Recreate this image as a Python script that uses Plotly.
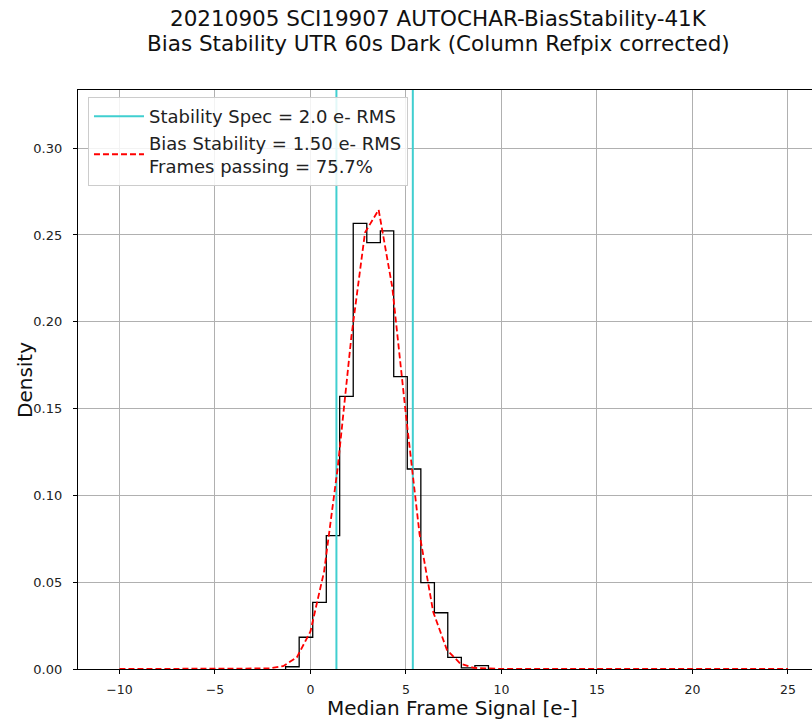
import plotly.graph_objects as go

# ---- data ----
bin_edges = [-1.30, -0.59, 0.12, 0.83, 1.53, 2.24, 2.95, 3.66, 4.36, 5.07,
             5.78, 6.49, 7.19, 7.90, 8.61, 9.32]
bin_density = [0.0013, 0.0183, 0.0384, 0.0768, 0.1570, 0.2567, 0.2456, 0.2523,
               0.1684, 0.1152, 0.0497, 0.0324, 0.0067, 0.0007, 0.0019]

fit_x = [-10.0, -3.571, -2.857, -2.143, -1.429, -0.714, 0.0, 0.714, 1.429, 2.143,
         2.857, 3.571, 4.286, 5.0, 5.714, 6.429, 7.143, 7.857, 8.571, 9.286,
         10.0, 10.714, 25.0]
fit_y = [0.0, 0.0, 0.00005, 0.00032, 0.00163, 0.00665, 0.0216, 0.0561, 0.1161, 0.1914,
         0.2514, 0.2645, 0.2198, 0.1463, 0.0776, 0.0328, 0.0111, 0.00297, 0.00064, 0.00011,
         0.00001, 0.0, 0.0]

spec_lines = [1.36, 5.36]

x_ticks = [-10, -5, 0, 5, 10, 15, 20, 25]
y_ticks = [0.00, 0.05, 0.10, 0.15, 0.20, 0.25, 0.30]

title_lines = ["20210905 SCI19907 AUTOCHAR-BiasStability-41K",
               "Bias Stability UTR 60s Dark (Column Refpix corrected)"]
spec_label = "Stability Spec = 2.0 e- RMS"
fit_label = "Bias Stability = 1.50 e- RMS<br>Frames passing = 75.7%"

FONT = "DejaVu Sans"

fig = go.Figure()

# histogram outline (step)
fig.add_trace(go.Scatter(
    x=[bin_edges[0]] + bin_edges,
    y=[0] + bin_density + [0],
    mode="lines", line=dict(color="black", width=1.3, shape="hv"),
    showlegend=False, hoverinfo="skip"))

# spec lines
sx, sy = [], []
for v in spec_lines:
    sx += [v, v, None]
    sy += [0, 1, None]
fig.add_trace(go.Scatter(x=sx, y=sy, mode="lines",
                         line=dict(color="#40CFD0", width=2),
                         name=spec_label))

# fit curve
fig.add_trace(go.Scatter(x=fit_x, y=fit_y, mode="lines",
                         line=dict(color="#ff0000", width=1.8, dash="6px,3px"),
                         name=fit_label))

fig.update_layout(
    width=812, height=719,
    margin=dict(l=78, r=0, t=90, b=50),
    paper_bgcolor="white", plot_bgcolor="white",
    font=dict(family=FONT, color="#222", size=13),
    legend=dict(x=0.0136, y=0.988, xanchor="left", yanchor="top",
                bgcolor="rgba(255,255,255,0.85)", bordercolor="#cccccc",
                borderwidth=1, font=dict(size=18, family=FONT, color="#222"),
                itemwidth=50, tracegroupgap=2),
    showlegend=True,
)

fig.update_xaxes(range=[-12.17, 26.26], tickvals=x_ticks,
                 ticktext=[("\u2212" + str(-t)) if t < 0 else str(t) for t in x_ticks],
                 showgrid=True, gridcolor="#b0b0b0", gridwidth=1,
                 showline=True, linecolor="black", linewidth=1.2, mirror=True,
                 ticks="outside", ticklen=4, tickcolor="black", zeroline=False,
                 ticklabelstandoff=5,
                 tickfont=dict(size=12.5, family=FONT, color="#222"))
fig.update_yaxes(range=[0, 0.3335], tickvals=y_ticks,
                 ticktext=[f"{t:.2f}" for t in y_ticks],
                 showgrid=True, gridcolor="#b0b0b0", gridwidth=1,
                 showline=True, linecolor="black", linewidth=1.2, mirror=False,
                 ticks="outside", ticklen=4, tickcolor="black", zeroline=False,
                 ticklabelstandoff=8,
                 tickfont=dict(size=13, family=FONT, color="#222"))

# title (two lines)
for i, line in enumerate(title_lines):
    yc = 18 + 25 * i
    fig.add_annotation(text=line, xref="paper", yref="paper",
                       x=(438 - 78) / 734, y=1 + (90 - yc) / 579,
                       xanchor="center", yanchor="middle", showarrow=False,
                       font=dict(size=21.5, family=FONT, color="#111"))

fig.add_annotation(text="Median Frame Signal [e-]", xref="paper", yref="paper",
                   x=(452 - 78) / 734, y=-(708 - 669) / 579, xanchor="center",
                   yanchor="middle", showarrow=False,
                   font=dict(size=20, family=FONT, color="#111"))
fig.add_annotation(text="Density", xref="paper", yref="paper",
                   x=(25 - 78) / 734, y=(669 - 380) / 579, xanchor="center",
                   yanchor="middle", textangle=-90, showarrow=False,
                   font=dict(size=20, family=FONT, color="#111"))

fig.write_html("out.html")
